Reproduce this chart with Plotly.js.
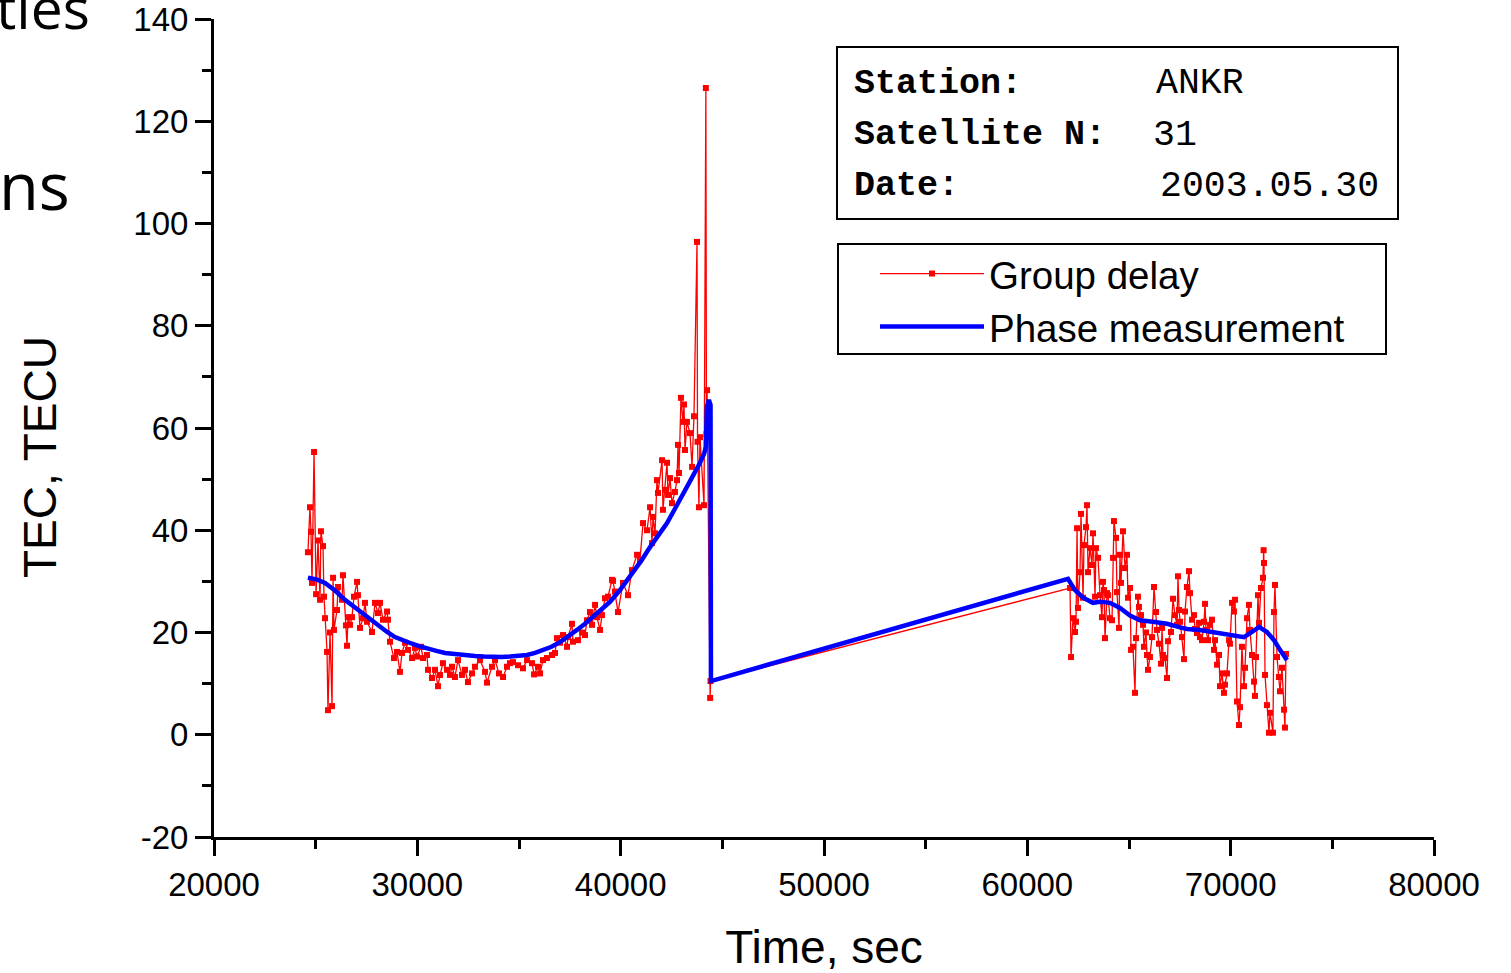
<!DOCTYPE html>
<html>
<head>
<meta charset="utf-8">
<script src="https://cdn.plot.ly/plotly-3.0.1.min.js"></script>
<style>html,body{margin:0;padding:0;background:#fff;}#chart{width:1511px;height:973px;}</style>
</head>
<body>
<div id="chart"></div>
<script>
// Group delay (red, markers + thin line)
const gdTime = [24620,24720,24770,24820,24920,25020,25115,25215,25260,25360,25410,25460,25560,25605,25705,25805,25855,25900,26050,26100,26295,26345,26490,26540,26590,26690,26785,26885,27035,27080,27180,27330,27425,27525,27770,27920,28065,28165,28310,28510,28555,28655,28850,29000,29145,29245,29395,29540,29740,29885,29985,30180,30280,30475,30525,30720,30870,31015,31115,31260,31460,31605,31705,31850,32000,32195,32345,32490,32690,32835,33080,33330,33425,33670,33820,34015,34215,34410,34555,34705,34950,35195,35395,35640,35740,35935,36035,36180,36375,36625,36770,36870,37015,37165,37360,37410,37605,37655,37900,38100,38245,38345,38490,38590,38740,38835,38985,39080,39230,39375,39575,39625,39720,39870,40115,40360,40555,40805,40950,41100,41295,41445,41540,41590,41690,41785,41835,42035,42080,42180,42280,42330,42425,42525,42670,42770,42820,42870,42965,43065,43115,43165,43260,43410,43510,43605,43755,43780,43850,43900,44100,44190,44220,44250,44400,44420,
62100,62150,62245,62345,62395,62445,62490,62590,62640,62740,62785,62885,62935,62985,63080,63180,63230,63330,63375,63475,63575,63670,63720,63770,63820,63920,63965,64065,64165,64215,64260,64360,64410,64510,64555,64605,64705,64805,64900,64950,65050,65100,65195,65295,65345,65440,65490,65590,65690,65735,65835,65885,65935,66030,66130,66230,66330,66375,66475,66575,66625,66670,66770,66870,66920,67065,67165,67260,67360,67410,67460,67510,67605,67705,67755,67850,67950,68000,68100,68195,68245,68345,68445,68490,68590,68690,68740,68785,68885,68985,69080,69180,69230,69330,69425,69475,69575,69670,69720,69820,69920,69965,70065,70165,70215,70310,70410,70460,70555,70655,70705,70805,70900,70950,71050,71150,71195,71245,71345,71395,71490,71590,71620,71640,71690,71785,71885,71935,72080,72130,72180,72280,72375,72425,72525,72625,72670,72720];
const gdTec = [35.7,44.5,39.7,29.7,55.3,27.5,38.0,26.4,39.8,36.9,27.0,22.8,16.2,4.8,20.0,5.6,30.7,20.5,24.4,28.9,26.4,31.2,21.4,17.4,23.0,21.5,23.0,27.0,29.9,27.3,20.9,22.8,25.8,22.1,20.1,25.8,23.8,25.8,22.5,24.1,22.5,18.2,15.0,16.2,12.3,16.0,18.0,16.6,15.0,17.0,15.3,17.2,15.0,15.6,12.7,11.1,12.7,9.5,11.7,14.0,12.7,11.7,13.3,11.3,14.6,11.7,12.7,10.3,12.0,13.3,14.6,12.3,10.2,13.3,14.6,12.0,11.3,13.3,14.0,14.2,13.6,13.0,14.6,14.0,11.8,13.3,12.0,14.6,15.0,15.6,16.0,18.9,18.0,19.5,17.2,19.1,21.7,18.2,18.5,20.0,19.5,22.4,24.0,21.5,25.4,23.0,20.5,23.4,26.7,27.0,30.3,30.1,28.0,24.0,29.7,27.3,32.2,35.2,34.2,41.4,40.0,44.5,37.5,42.6,39.4,49.8,47.3,53.7,44.0,47.9,53.2,46.9,50.2,45.3,47.5,49.8,56.7,51.2,65.9,61.2,64.6,55.7,61.2,59.0,52.4,62.3,96.4,57.3,44.5,58.2,44.9,126.5,58.8,67.4,7.2,10.5,
28.7,15.2,22.8,20.1,22.1,40.4,24.8,31.8,43.2,26.8,37.1,40.6,44.9,31.8,36.5,33.2,39.4,27.0,36.5,34.6,27.3,23.0,29.9,28.3,18.9,27.7,27.3,22.8,22.4,34.6,41.8,38.5,27.9,20.9,35.2,29.7,39.8,32.6,35.2,26.8,28.7,16.6,17.2,8.2,18.9,27.0,25.0,23.4,21.5,17.2,20.0,15.6,12.7,15.2,19.1,28.9,24.0,20.5,17.8,13.9,20.9,15.6,15.0,11.1,18.3,20.1,26.6,23.4,21.5,31.0,24.4,22.1,19.1,14.8,24.1,28.9,32.0,27.7,22.5,23.4,20.7,19.9,21.9,19.1,18.5,22.1,25.6,20.5,18.5,21.5,22.5,16.6,18.5,13.7,15.6,9.5,12.0,8.2,9.8,12.0,18.5,17.8,25.8,24.1,26.4,6.5,1.9,5.4,17.2,9.5,13.1,22.8,25.4,20.5,15.6,10.4,7.6,15.2,27.3,21.9,28.7,30.7,36.1,33.6,11.7,5.8,0.4,4.3,0.4,24.0,29.3,15.2,11.3,8.5,13.1,4.9,1.4,15.8];

// Phase measurement (blue, thick line)
const phTime = [24620,25040,25460,25950,26440,26860,27280,27670,28065,28480,28900,29320,29740,30130,30525,30940,31360,31730,32100,32470,32835,33280,33720,34140,34555,34975,35395,35790,36180,36600,37015,37430,37850,38245,38640,39060,39475,39965,40285,40605,41025,41445,41860,42280,42670,43065,43480,43900,44100,44190,44240,44340,44420,44440,62000,62345,62740,63230,63575,64065,64555,65050,65540,66180,66870,67510,67850,68490,69330,70165,70655,71050,71395,71785,72130,72425,72770];
const phTec = [30.7,30.4,29.7,28.2,26.4,25.1,23.8,22.6,21.5,20.2,19.1,18.4,17.8,17.3,16.8,16.4,16.0,15.8,15.6,15.5,15.4,15.3,15.2,15.2,15.3,15.4,15.6,16.0,16.6,17.2,18.1,19.2,20.5,21.7,23.0,24.4,26.0,28.3,30.0,31.8,34.1,36.7,39.0,41.4,44.2,47.3,50.1,53.2,54.9,56.3,64.1,65.5,64.5,10.5,30.5,28.3,26.8,25.8,26.0,25.8,24.8,23.3,22.4,22.1,21.7,21.0,20.7,20.5,19.9,19.3,19.1,20.1,21.1,20.1,18.5,16.6,14.6];

const xTickVals = [20000,30000,40000,50000,60000,70000,80000];
const yTickVals = [-20,0,20,40,60,80,100,120,140];
const infoLabels = ['Station:','Satellite N:','Date:'];
const infoValues = ['ANKR','31','2003.05.30'];
const seriesNames = ['Group delay','Phase measurement'];
const axisTitles = {x:'Time, sec', y:'TEC, TECU'};

const traces = [
  {x: gdTime, y: gdTec, type:'scatter', mode:'lines+markers', name: seriesNames[0],
   line:{color:'#ff0000', width:1.3}, marker:{symbol:'square', size:6, color:'#ff0000'}},
  {x: phTime, y: phTec, type:'scatter', mode:'lines', name: seriesNames[1],
   line:{color:'#0000ff', width:4.5}}
];

const W = 1511, H = 973, L = 214, R = 1434, T = 19, B = 837;
const px = v => (v - L) / (R - L);
const py = v => (B - v) / (B - T);

const mono = 'Liberation Mono, Courier New, monospace';
const sans = 'Liberation Sans, Arial, sans-serif';
const annotations = [];
const rowsY = [84, 135, 186];
const valX = [1158, 1155, 1162];
infoLabels.forEach((t,i)=>{
  annotations.push({xref:'paper', yref:'paper', x:px(852), y:py(rowsY[i]), xanchor:'left', yanchor:'middle',
    text:'<b>'+t+'</b>', showarrow:false, font:{family:mono, size:35, color:'#000'}});
  annotations.push({xref:'paper', yref:'paper', x:px(valX[i]-4), y:py(rowsY[i]), xanchor:'left', yanchor:'middle',
    text:infoValues[i], showarrow:false, font:{family:mono, size:36.5, color:'#000'}});
});
annotations.push({xref:'paper', yref:'paper', x:px(92), y:py(7), xanchor:'right', yanchor:'middle',
  text:'ties', showarrow:false, font:{family:'Open Sans, sans-serif', size:57, color:'#000'}});
annotations.push({xref:'paper', yref:'paper', x:px(72), y:py(185), xanchor:'right', yanchor:'middle',
  text:'ns', showarrow:false, font:{family:'Open Sans, sans-serif', size:65, color:'#000'}});
annotations.push({xref:'paper', yref:'paper', x:px(40), y:py(457), xanchor:'center', yanchor:'middle',
  text:axisTitles.y, textangle:-90, showarrow:false, font:{family:sans, size:46, color:'#000'}});

const layout = {
  width: W, height: H,
  margin:{l:L, r:W-R, t:T, b:H-B, pad:0},
  paper_bgcolor:'#fff', plot_bgcolor:'#fff',
  font:{family:sans, color:'#000'},
  showlegend:true,
  xaxis:{range:[20000,80000], tickvals:xTickVals, ticktext:xTickVals.map(String),
    showgrid:false, zeroline:false, showline:true, linewidth:3, linecolor:'#000',
    ticks:'outside', ticklen:16, tickwidth:3, tickcolor:'#000',
    minor:{ticks:'outside', ticklen:9, tickwidth:3, tickcolor:'#000', dtick:5000, tick0:20000, showgrid:false},
    tickfont:{size:33, family:sans},
    title:{text:axisTitles.x, font:{size:46}, standoff:30}},
  yaxis:{range:[-20,140], tickvals:yTickVals, ticktext:yTickVals.map(String),
    showgrid:false, zeroline:false, showline:true, linewidth:3, linecolor:'#000',
    ticks:'outside', ticklen:16, tickwidth:3, tickcolor:'#000',
    minor:{ticks:'outside', ticklen:9, tickwidth:3, tickcolor:'#000', dtick:10, tick0:-20, showgrid:false},
    tickfont:{size:33, family:sans}},
  legend:{x:px(875), y:py(242), xanchor:'left', yanchor:'top',
    bgcolor:'rgba(0,0,0,0)', borderwidth:0,
    font:{size:38.5, family:sans}, itemwidth:104, tracegroupgap:0},
  shapes:[
    {type:'rect', xref:'paper', yref:'paper', x0:px(837), x1:px(1398), y0:py(47), y1:py(219),
     line:{color:'#000', width:2}, fillcolor:'rgba(0,0,0,0)'},
    {type:'rect', xref:'paper', yref:'paper', x0:px(838), x1:px(1386), y0:py(244), y1:py(354),
     line:{color:'#000', width:2}, fillcolor:'rgba(0,0,0,0)'}
  ],
  annotations: annotations
};

Plotly.newPlot('chart', traces, layout, {displayModeBar:false, staticPlot:true});
</script>
</body>
</html>
